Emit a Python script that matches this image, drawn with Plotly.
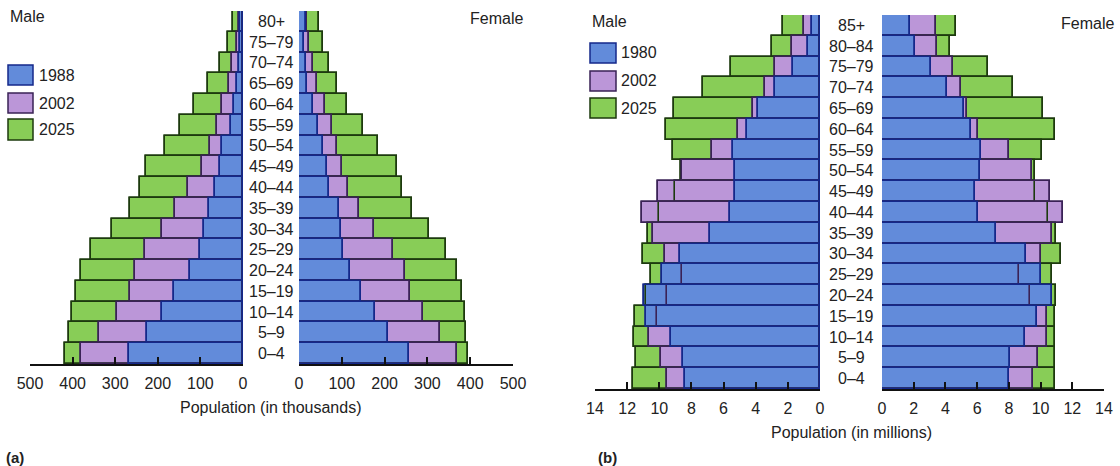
import plotly.graph_objects as go

# ---------------- data ----------------
ages_a = ["0–4", "5–9", "10–14", "15–19", "20–24", "25–29", "30–34", "35–39", "40–44",
          "45–49", "50–54", "55–59", "60–64", "65–69", "70–74", "75–79", "80+"]
years_a = ["1988", "2002", "2025"]
male_a_1988 = [268, 225, 190, 162, 125, 101, 92, 80, 65, 55, 49, 29, 22, 14, 10, 8, 6]
male_a_2002 = [380, 337, 296, 265, 253, 229, 190, 159, 128, 96, 77, 61, 49, 33, 26, 14, 10]
male_a_2025 = [418, 408, 402, 392, 380, 357, 308, 265, 241, 228, 184, 147, 114, 83, 55, 35, 24]
female_a_1988 = [257, 208, 177, 145, 119, 103, 98, 93, 71, 66, 55, 45, 33, 19, 16, 12, 16]
female_a_2002 = [368, 329, 290, 259, 247, 220, 175, 141, 115, 101, 89, 76, 61, 43, 33, 24, 19]
female_a_2025 = [395, 391, 387, 381, 370, 343, 304, 265, 240, 228, 185, 149, 113, 89, 71, 55, 47]
ticks_a = [0, 100, 200, 300, 400, 500]

ages_b = ["0–4", "5–9", "10–14", "15–19", "20–24", "25–29", "30–34", "35–39", "40–44",
          "45–49", "50–54", "55–59", "60–64", "65–69", "70–74", "75–79", "80–84", "85+"]
years_b = ["1980", "2002", "2025"]
male_b_1980 = [8.4, 8.5, 9.29, 10.83, 10.95, 9.85, 8.71, 6.85, 5.6, 5.29, 5.29, 5.39, 4.56, 3.84, 2.8, 1.66, 0.77, 0.5]
male_b_2002 = [9.54, 9.91, 10.62, 10.12, 9.54, 8.6, 9.65, 10.37, 11.1, 10.06, 8.6, 6.74, 5.08, 4.17, 3.42, 2.8, 1.72, 1.0]
male_b_2025 = [11.66, 11.45, 11.6, 11.5, 10.85, 10.53, 11.0, 10.68, 10.0, 9.02, 8.65, 9.13, 9.58, 9.09, 7.26, 5.56, 3.0, 2.32]
female_b_1980 = [8.02, 8.06, 9.0, 9.75, 10.75, 10.0, 9.07, 7.18, 6.06, 5.85, 6.17, 6.27, 5.64, 5.2, 4.13, 3.12, 2.1, 1.79]
female_b_2002 = [9.5, 9.85, 10.42, 10.42, 9.32, 8.65, 10.0, 10.69, 11.39, 10.59, 9.43, 8.02, 6.06, 5.39, 5.0, 4.48, 3.47, 3.39]
female_b_2025 = [10.9, 10.9, 10.9, 10.9, 10.96, 10.69, 11.26, 11.0, 10.48, 9.64, 9.64, 10.06, 10.9, 10.13, 8.23, 6.69, 4.3, 4.69]
ticks_b = [0, 2, 4, 6, 8, 10, 12, 14]

# ---------------- style ----------------
W, H = 1120, 466
FONT = "Liberation Sans, Arial, Helvetica, sans-serif"
FILL = ["#628bda", "#bb96d8", "#88cd57"]      # oldest, 2002, 2025
EDGE = ["#14288a", "#3a2256", "#1d3a0e"]


def px(x):
    return x / W


def py(y):
    return 1 - y / H


fig = go.Figure()


def add_side(series, xa, ya):
    # draw back-to-front: 2025, 2002, oldest
    n = len(series[0])
    idx = list(range(n))
    for k in (2, 1, 0):
        fig.add_trace(go.Bar(x=series[k], y=idx, orientation="h", xaxis=xa, yaxis=ya,
                             marker=dict(color=FILL[k], line=dict(color=EDGE[k], width=1.5)),
                             showlegend=False, hoverinfo="skip"))
    for k in (2, 1, 0):
        fig.add_trace(go.Bar(x=series[k], y=idx, orientation="h", xaxis=xa, yaxis=ya,
                             marker=dict(color="rgba(0,0,0,0)", line=dict(color=EDGE[k], width=1.6)),
                             showlegend=False, hoverinfo="skip"))


add_side([male_a_1988, male_a_2002, male_a_2025], "x", "y")
add_side([female_a_1988, female_a_2002, female_a_2025], "x2", "y")
add_side([male_b_1980, male_b_2002, male_b_2025], "x3", "y2")
add_side([female_b_1980, female_b_2002, female_b_2025], "x4", "y2")

xcommon = dict(showgrid=False, zeroline=False, showline=True, linewidth=2, linecolor="#111",
               ticks="inside", ticklen=7, tickwidth=2, tickcolor="#111",
               tickfont=dict(family=FONT, size=16, color="#222"), ticklabelstandoff=4,
               automargin=False, fixedrange=True)

fig.update_layout(
    width=W, height=H,
    margin=dict(l=0, r=0, t=0, b=0, pad=0, autoexpand=False),
    paper_bgcolor="white", plot_bgcolor="white",
    barmode="overlay", bargap=0, showlegend=False,
    font=dict(family=FONT, size=16, color="#222"),
    xaxis=dict(domain=[px(30), px(243)], range=[500, 0], tickvals=ticks_a, anchor="y", **xcommon),
    xaxis2=dict(domain=[px(299), px(513)], range=[0, 500], tickvals=ticks_a, anchor="y", **xcommon),
    xaxis3=dict(domain=[px(595), px(820)], range=[14, 0], tickvals=ticks_b, anchor="y2", **xcommon),
    xaxis4=dict(domain=[px(882), px(1104)], range=[0, 14], tickvals=ticks_b, anchor="y2", **xcommon),
    yaxis=dict(domain=[py(364), py(11)], range=[-0.5, len(ages_a) - 0.5], visible=False,
               anchor="x", fixedrange=True, automargin=False),
    yaxis2=dict(domain=[py(389), py(15)], range=[-0.5, len(ages_b) - 0.5], visible=False,
                anchor="x3", fixedrange=True, automargin=False),
)

ann = []
for i, lab in enumerate(ages_a):
    ann.append(dict(x=px(271), y=i, xref="paper", yref="y", text=lab, showarrow=False,
                    xanchor="center", yanchor="middle", font=dict(size=16)))
for i, lab in enumerate(ages_b):
    ann.append(dict(x=px(851), y=i, xref="paper", yref="y2", text=lab, showarrow=False,
                    xanchor="center", yanchor="middle", font=dict(size=16)))


def text(x, y, s, anchor="left", size=16, **kw):
    ann.append(dict(x=px(x), y=py(y), xref="paper", yref="paper", text=s, showarrow=False,
                    xanchor=anchor, yanchor="middle", font=dict(size=size, **kw)))


text(8, 16, "Male")
text(525, 18, "Female", anchor="right")
text(590, 21, "Male")
text(1116, 23, "Female", anchor="right")
text(270, 407, "Population (in thousands)", anchor="center")
text(851, 432, "Population (in millions)", anchor="center")
text(4, 457, "<b>(a)</b>", size=15)
text(596, 457, "<b>(b)</b>", size=15)

shapes = []
leg_a = [(65, 85), (93, 113), (119, 140)]
for k, (y0, y1) in enumerate(leg_a):
    shapes.append(dict(type="rect", xref="paper", yref="paper", x0=px(8), x1=px(33),
                       y0=py(y1), y1=py(y0), fillcolor=FILL[k], line=dict(color=EDGE[k], width=1.5)))
    text(37, (y0 + y1) / 2, years_a[k])
leg_b = [(43, 63), (71, 91), (98, 118)]
for k, (y0, y1) in enumerate(leg_b):
    shapes.append(dict(type="rect", xref="paper", yref="paper", x0=px(590), x1=px(616),
                       y0=py(y1), y1=py(y0), fillcolor=FILL[k], line=dict(color=EDGE[k], width=1.5)))
    text(619, (y0 + y1) / 2, years_b[k])

fig.update_layout(annotations=ann, shapes=shapes)
fig.write_html("out.html", config={"displayModeBar": False},
               post_script="document.body.style.margin='0';document.body.style.overflow='hidden';")
